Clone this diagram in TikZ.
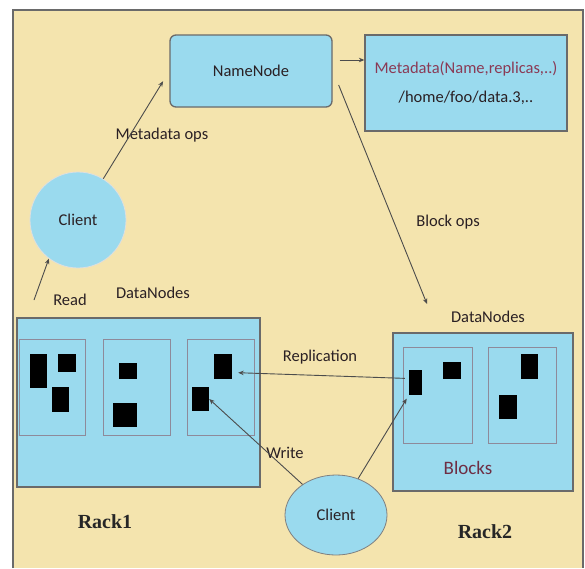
\documentclass[tikz,border=0pt]{standalone}
\usepackage{fontspec}
\setmainfont{Carlito}
\newfontfamily\rackfont{Liberation Serif}
\usetikzlibrary{arrows.meta,shapes.geometric,calc}
\definecolor{paper}{HTML}{F4E4AE}
\definecolor{skyfill}{HTML}{9ADAEE}
\definecolor{edgegray}{HTML}{6A6A6A}
\definecolor{boxline}{HTML}{8E8A9A}
\definecolor{inkred}{HTML}{8A3A55}
\definecolor{inkdark}{HTML}{2A2024}

\tikzset{
    bluebox/.style={draw=edgegray, fill=skyfill, line width=1.3pt, inner sep=0pt},
    dnbox/.style={draw=boxline, fill=skyfill, line width=0.9pt, inner sep=0pt},
    blk/.style={fill=black, inner sep=0pt},
    lbl/.style={inner sep=1pt, text=inkdark, font=\fontsize{16.5}{20}\selectfont},
    racklbl/.style={inner sep=1pt, text=black!85, font=\rackfont\bfseries\fontsize{20}{24}\selectfont},
    conn/.style={-{Stealth[length=5.5pt,width=4.5pt]}, line width=0.9pt, draw=black!70},
}

\begin{document}
\begin{tikzpicture}[x=1pt,y=-1pt]
    \useasboundingbox (0,0) rectangle (585,568);
    \fill[paper] (13,10) rectangle (583,568);
    \draw[edgegray, line width=1.5pt] (13,568) -- (13,10) -- (583,10) -- (583,568);

    \node[bluebox, rounded corners=6pt, minimum width=162pt, minimum height=72pt, lbl] (nn) at (251,71) {NameNode};
    \node[bluebox, minimum width=202pt, minimum height=96pt, lbl, align=center,
          font=\fontsize{16.5}{29}\selectfont] (meta) at (466,83)
          {{\color{inkred}Metadata(Name,replicas,..)}\\/home/foo/data.3,..};

    \node[circle, draw=white!75!gray, fill=skyfill, line width=0.8pt, minimum size=96pt, lbl] (client1) at (78,220) {Client};
    \node[ellipse, draw=gray, fill=skyfill, line width=0.8pt, minimum width=102pt, minimum height=80pt, lbl] (client2) at (336,515) {Client};

    % rack 1
    \node[bluebox, minimum width=243pt, minimum height=169pt] (rack1) at (138.5,402.5) {};
    \node[dnbox, minimum width=66pt, minimum height=96pt] (r1n1) at (52,387) {};
    \node[dnbox, minimum width=67pt, minimum height=96pt] (r1n2) at (136.5,387) {};
    \node[dnbox, minimum width=67pt, minimum height=96pt] (r1n3) at (220.5,387) {};
    \node[blk, minimum width=17pt, minimum height=34pt] (r1a) at (38.5,371) {};
    \node[blk, minimum width=18pt, minimum height=18pt] (r1b) at (67,363) {};
    \node[blk, minimum width=17pt, minimum height=25pt] (r1c) at (60.5,399.5) {};
    \node[blk, minimum width=18pt, minimum height=16pt] (r1d) at (128,371) {};
    \node[blk, minimum width=24pt, minimum height=24pt] (r1e) at (125,415) {};
    \node[blk, minimum width=18pt, minimum height=25pt] (r1f) at (223,366.5) {};
    \node[blk, minimum width=17pt, minimum height=24pt] (r1g) at (200.5,399) {};

    % rack 2
    \node[bluebox, minimum width=180pt, minimum height=158pt] (rack2) at (483,412) {};
    \node[dnbox, minimum width=69pt, minimum height=96pt] (r2n1) at (437.5,395) {};
    \node[dnbox, minimum width=68pt, minimum height=96pt] (r2n2) at (522,395) {};
    \node[blk, minimum width=13pt, minimum height=25pt] (r2a) at (415.5,382.5) {};
    \node[blk, minimum width=18pt, minimum height=17pt] (r2b) at (452,370.5) {};
    \node[blk, minimum width=17pt, minimum height=25pt] (r2c) at (529.5,366.5) {};
    \node[blk, minimum width=18pt, minimum height=24pt] (r2d) at (508,407) {};
    \node[lbl, text=inkred!80!black, font=\fontsize{19}{22}\selectfont] (blocks) at (468,468) {Blocks};

    \node[lbl] (lmeta) at (162,135) {Metadata ops};
    \node[lbl] (lread) at (70,300) {Read};
    \node[lbl] (ldn1) at (153,293) {DataNodes};
    \node[lbl] (ldn2) at (488,317) {DataNodes};
    \node[lbl] (lrep) at (320,357) {Replication};
    \node[lbl] (lwrite) at (285,453) {Write};
    \node[lbl] (lbops) at (448,222) {Block ops};
    \node[racklbl] (lrack1) at (105,522) {Rack1};
    \node[racklbl] (lrack2) at (485,532) {Rack2};

    \coordinate (rdtail) at (34,300);
    \coordinate (bopstip) at (427,304);

    \draw[conn, shorten >=12pt] (client1) -- (nn.west);
    \draw[conn] (rdtail) -- (client1.233);
    \draw[conn] ($(nn.east)+(7,-11)$) -- ($(meta.west)+(0,-23)$);
    \draw[conn] ($(nn.east)+(6,14)$) -- (bopstip);
    \draw[conn, shorten <=4pt, shorten >=6pt] ([yshift=4pt]r2a.west) -- ([yshift=-6pt]r1f.east);
    \draw[conn] (client2) -- (r1g.east);
    \draw[conn, shorten >=4pt] (client2) -- (r2a.south west);
\end{tikzpicture}
\end{document}
